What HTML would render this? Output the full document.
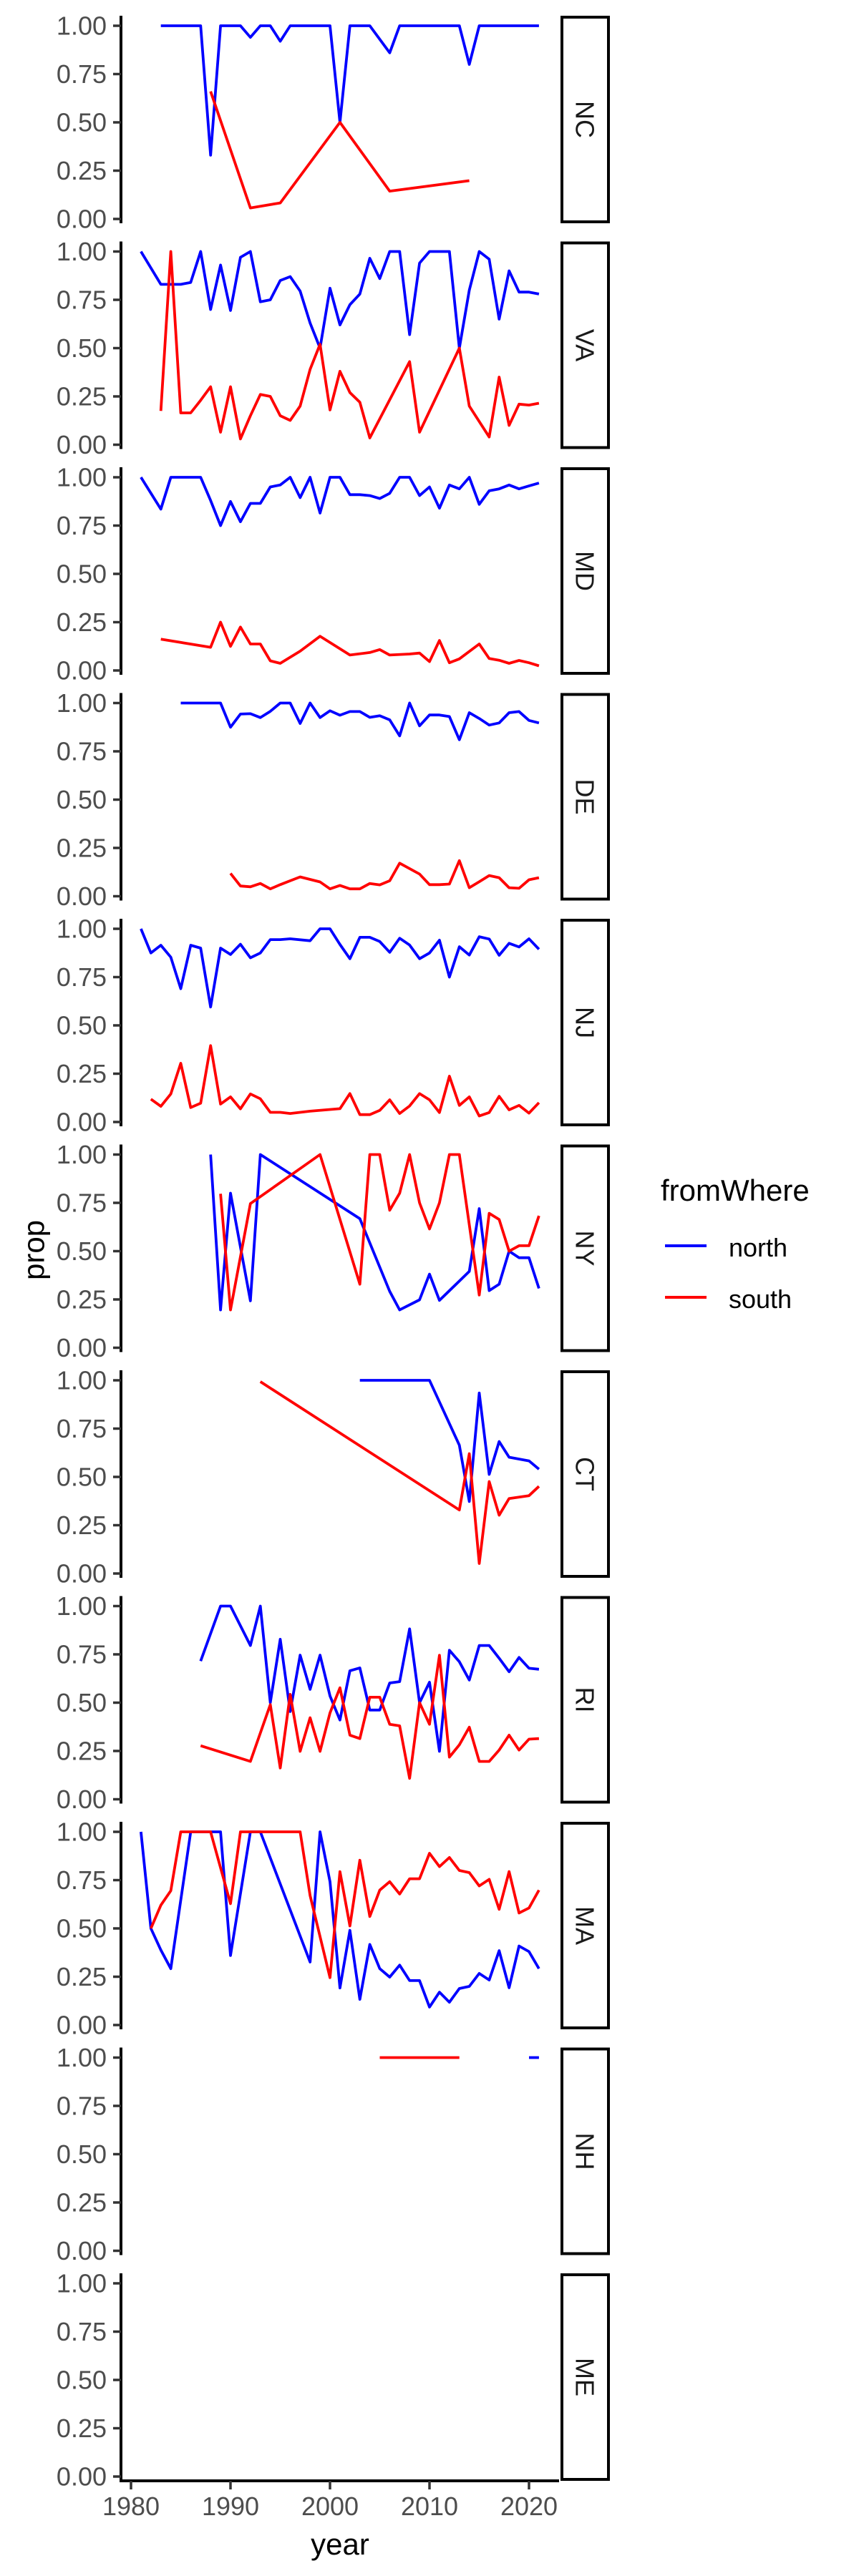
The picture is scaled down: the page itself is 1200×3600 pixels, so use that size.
<!DOCTYPE html>
<html><head><meta charset="utf-8">
<style>
html,body{margin:0;padding:0;background:#fff;}
svg{display:block;font-family:"Liberation Sans",Arial,sans-serif;}
</style></head>
<body>
<svg id="chart" width="1200" height="3600" viewBox="0 0 1200 3600" xmlns="http://www.w3.org/2000/svg">
<rect x="0" y="0" width="1200" height="3600" fill="#fff"/>
<g id="panels"></g>
<text x="47" y="1747" font-size="42" fill="#000" text-anchor="middle" dominant-baseline="central" transform="rotate(-90 47 1747)">prop</text>
<text x="475" y="3570" font-size="42" fill="#000" text-anchor="middle">year</text>
<g>
<text x="923" y="1678" font-size="42" fill="#000">fromWhere</text>
<line x1="929" y1="1741" x2="987" y2="1741" stroke="#0000FF" stroke-width="4"/>
<text x="1018" y="1756" font-size="36" fill="#000">north</text>
<line x1="929" y1="1813" x2="987" y2="1813" stroke="#FF0000" stroke-width="4"/>
<text x="1018" y="1828" font-size="36" fill="#000">south</text>
</g>
</svg>
<script>
const states = ["NC","VA","MD","DE","NJ","NY","CT","RI","MA","NH","ME"];
const yTicks = [0, 0.25, 0.5, 0.75, 1];
const yTickLabels = ["0.00","0.25","0.50","0.75","1.00"];
const xTicks = [1980, 1990, 2000, 2010, 2020];
const xTickLabels = ["1980","1990","2000","2010","2020"];

const NC_north = [[1983,1],[1984,1],[1985,1],[1986,1],[1987,1],[1988,0.33],[1989,1],[1990,1],[1991,1],[1992,0.94],[1993,1],[1994,1],[1995,0.92],[1996,1],[1997,1],[1998,1],[1999,1],[2000,1],[2001,0.5],[2002,1],[2003,1],[2004,1],[2006,0.86],[2007,1],[2008,1],[2009,1],[2010,1],[2011,1],[2012,1],[2013,1],[2014,0.8],[2015,1],[2016,1],[2017,1],[2018,1],[2019,1],[2020,1],[2021,1]];
const NC_south = [[1988,0.66],[1992,0.057],[1995,0.083],[2001,0.5],[2006,0.144],[2014,0.198]];
const VA_north = [[1981,1],[1983,0.83],[1984,0.83],[1985,0.83],[1986,0.84],[1987,1],[1988,0.7],[1989,0.93],[1990,0.695],[1991,0.97],[1992,1],[1993,0.74],[1994,0.75],[1995,0.85],[1996,0.87],[1997,0.795],[1998,0.63],[1999,0.5],[2000,0.81],[2001,0.62],[2002,0.725],[2003,0.78],[2004,0.965],[2005,0.86],[2006,1],[2007,1],[2008,0.57],[2009,0.94],[2010,1],[2011,1],[2012,1],[2013,0.5],[2014,0.8],[2015,1],[2016,0.96],[2017,0.65],[2018,0.9],[2019,0.79],[2020,0.79],[2021,0.78]];
const VA_south = [[1983,0.175],[1984,1],[1985,0.165],[1986,0.165],[1987,0.23],[1988,0.3],[1989,0.065],[1990,0.3],[1991,0.03],[1992,0.15],[1993,0.26],[1994,0.25],[1995,0.15],[1996,0.126],[1997,0.2],[1998,0.39],[1999,0.52],[2000,0.18],[2001,0.38],[2002,0.27],[2003,0.22],[2004,0.035],[2008,0.43],[2009,0.065],[2013,0.5],[2014,0.2],[2016,0.04],[2017,0.35],[2018,0.1],[2019,0.21],[2020,0.205],[2021,0.215]];
const MD_north = [[1981,1],[1983,0.835],[1984,1],[1985,1],[1986,1],[1987,1],[1988,0.88],[1989,0.75],[1990,0.875],[1991,0.77],[1992,0.865],[1993,0.865],[1994,0.95],[1995,0.96],[1996,1],[1997,0.895],[1998,1],[1999,0.815],[2000,1],[2001,1],[2002,0.91],[2003,0.91],[2004,0.905],[2005,0.89],[2006,0.917],[2007,1],[2008,1],[2009,0.905],[2010,0.95],[2011,0.84],[2012,0.96],[2013,0.94],[2014,1],[2015,0.86],[2016,0.93],[2017,0.94],[2018,0.96],[2019,0.94],[2020,0.955],[2021,0.97]];
const MD_south = [[1983,0.162],[1988,0.12],[1989,0.25],[1990,0.125],[1991,0.225],[1992,0.137],[1993,0.137],[1994,0.05],[1995,0.037],[1997,0.1],[1999,0.177],[2002,0.08],[2004,0.093],[2005,0.108],[2006,0.08],[2008,0.085],[2009,0.09],[2010,0.046],[2011,0.155],[2012,0.04],[2013,0.06],[2015,0.137],[2016,0.062],[2017,0.053],[2018,0.037],[2019,0.052],[2020,0.04],[2021,0.024]];
const DE_north = [[1985,1],[1986,1],[1987,1],[1988,1],[1989,1],[1990,0.875],[1991,0.943],[1992,0.945],[1993,0.925],[1994,0.957],[1995,1],[1996,1],[1997,0.894],[1998,1],[1999,0.925],[2000,0.96],[2001,0.937],[2002,0.956],[2003,0.956],[2004,0.926],[2005,0.934],[2006,0.913],[2007,0.83],[2008,1],[2009,0.882],[2010,0.938],[2011,0.938],[2012,0.93],[2013,0.81],[2014,0.95],[2015,0.92],[2016,0.886],[2017,0.897],[2018,0.95],[2019,0.956],[2020,0.91],[2021,0.897]];
const DE_south = [[1990,0.118],[1991,0.053],[1992,0.049],[1993,0.066],[1994,0.038],[1995,0.06],[1996,0.08],[1997,0.1],[1999,0.074],[2000,0.038],[2001,0.056],[2002,0.038],[2003,0.038],[2004,0.066],[2005,0.059],[2006,0.08],[2007,0.171],[2009,0.115],[2010,0.06],[2011,0.06],[2012,0.063],[2013,0.184],[2014,0.044],[2015,0.075],[2016,0.107],[2017,0.096],[2018,0.044],[2019,0.041],[2020,0.085],[2021,0.096]];
const NJ_north = [[1981,1],[1982,0.875],[1983,0.915],[1984,0.853],[1985,0.69],[1986,0.915],[1987,0.9],[1988,0.595],[1989,0.9],[1990,0.867],[1991,0.92],[1992,0.85],[1993,0.875],[1994,0.944],[1995,0.944],[1996,0.948],[1998,0.938],[1999,1],[2000,1],[2001,0.919],[2002,0.845],[2003,0.956],[2004,0.956],[2005,0.934],[2006,0.878],[2007,0.951],[2008,0.916],[2009,0.845],[2010,0.875],[2011,0.941],[2012,0.75],[2013,0.907],[2014,0.864],[2015,0.959],[2016,0.947],[2017,0.863],[2018,0.925],[2019,0.906],[2020,0.948],[2021,0.894]];
const NJ_south = [[1982,0.118],[1983,0.081],[1984,0.145],[1985,0.304],[1986,0.075],[1987,0.097],[1988,0.395],[1989,0.093],[1990,0.13],[1991,0.068],[1992,0.145],[1993,0.12],[1994,0.05],[1995,0.05],[1996,0.044],[1998,0.056],[2001,0.069],[2002,0.147],[2003,0.038],[2004,0.038],[2005,0.06],[2006,0.115],[2007,0.044],[2008,0.083],[2009,0.147],[2010,0.115],[2011,0.049],[2012,0.237],[2013,0.086],[2014,0.13],[2015,0.031],[2016,0.049],[2017,0.133],[2018,0.063],[2019,0.086],[2020,0.046],[2021,0.1]];
const NY_north = [[1988,1],[1989,0.196],[1990,0.8],[1992,0.243],[1993,1],[2003,0.668],[2006,0.292],[2007,0.196],[2009,0.248],[2010,0.381],[2011,0.245],[2014,0.395],[2015,0.72],[2016,0.296],[2017,0.329],[2018,0.5],[2019,0.466],[2020,0.466],[2021,0.307]];
const NY_south = [[1989,0.797],[1990,0.196],[1992,0.746],[1999,1],[2003,0.329],[2004,1],[2005,1],[2006,0.712],[2007,0.8],[2008,1],[2009,0.75],[2010,0.615],[2011,0.75],[2012,1],[2013,1],[2015,0.273],[2016,0.696],[2017,0.664],[2018,0.5],[2019,0.528],[2020,0.528],[2021,0.683]];
const CT_north = [[2003,1],[2010,1],[2013,0.664],[2014,0.373],[2015,0.934],[2016,0.513],[2017,0.683],[2018,0.602],[2020,0.583],[2021,0.54]];
const CT_south = [[1993,0.993],[2013,0.329],[2014,0.62],[2015,0.052],[2016,0.476],[2017,0.302],[2018,0.388],[2020,0.403],[2021,0.451]];
const RI_north = [[1987,0.715],[1989,1],[1990,1],[1992,0.796],[1993,1],[1994,0.5],[1995,0.828],[1996,0.454],[1997,0.746],[1998,0.569],[1999,0.746],[2000,0.535],[2001,0.41],[2002,0.665],[2003,0.68],[2004,0.462],[2005,0.462],[2006,0.602],[2007,0.609],[2008,0.882],[2009,0.5],[2010,0.606],[2011,0.248],[2012,0.771],[2013,0.712],[2014,0.617],[2015,0.796],[2016,0.796],[2017,0.73],[2018,0.66],[2019,0.734],[2020,0.678],[2021,0.673]];
const RI_south = [[1987,0.277],[1992,0.196],[1994,0.49],[1995,0.162],[1996,0.543],[1997,0.248],[1998,0.422],[1999,0.248],[2000,0.447],[2001,0.577],[2002,0.332],[2003,0.314],[2004,0.528],[2005,0.528],[2006,0.388],[2007,0.38],[2008,0.108],[2009,0.5],[2010,0.388],[2011,0.745],[2012,0.218],[2013,0.282],[2014,0.373],[2015,0.196],[2016,0.196],[2017,0.255],[2018,0.332],[2019,0.255],[2020,0.311],[2021,0.314]];
const MA_north = [[1981,1],[1982,0.5],[1983,0.388],[1984,0.292],[1986,1],[1987,1],[1988,1],[1989,1],[1990,0.36],[1992,1],[1993,1],[1998,0.326],[1999,1],[2000,0.742],[2001,0.192],[2002,0.49],[2003,0.133],[2004,0.417],[2005,0.292],[2006,0.248],[2007,0.31],[2008,0.23],[2009,0.23],[2010,0.093],[2011,0.17],[2012,0.118],[2013,0.189],[2014,0.2],[2015,0.267],[2016,0.233],[2017,0.385],[2018,0.193],[2019,0.409],[2020,0.38],[2021,0.292]];
const MA_south = [[1982,0.5],[1983,0.62],[1984,0.695],[1985,1],[1986,1],[1987,1],[1988,1],[1990,0.628],[1991,1],[1992,1],[1993,1],[1994,1],[1995,1],[1996,1],[1997,1],[1998,0.67],[2000,0.245],[2001,0.794],[2002,0.513],[2003,0.853],[2004,0.562],[2005,0.698],[2006,0.742],[2007,0.678],[2008,0.757],[2009,0.757],[2010,0.889],[2011,0.82],[2012,0.867],[2013,0.8],[2014,0.789],[2015,0.72],[2016,0.754],[2017,0.599],[2018,0.794],[2019,0.58],[2020,0.606],[2021,0.698]];
const NH_north = [[2020,1],[2021,1]];
const NH_south = [[2005,1],[2013,1]];
const ME_north = [];
const ME_south = [];

const northSeries = [NC_north,VA_north,MD_north,DE_north,NJ_north,NY_north,CT_north,RI_north,MA_north,NH_north,ME_north];
const southSeries = [NC_south,VA_south,MD_south,DE_south,NJ_south,NY_south,CT_south,RI_south,MA_south,NH_south,ME_south];

const NS = "http://www.w3.org/2000/svg";
const PANEL_STEP = 315.5, Y1_FIRST = 36, Y_SPAN = 270;
const X_LEFT = 169, X_RIGHT = 781;
function xScale(yr){ return 183 + (yr - 1980) * 13.9; }
function yScale(v, i){ return Y1_FIRST + PANEL_STEP * i + (1 - v) * Y_SPAN; }
function mk(tag, attrs, parent){
  const e = document.createElementNS(NS, tag);
  for (const k in attrs) e.setAttribute(k, attrs[k]);
  parent.appendChild(e);
  return e;
}
const root = document.getElementById("panels");
states.forEach((st, i) => {
  const g = mk("g", {}, root);
  
  
  const top = yScale(1, i) - 14, bot = yScale(0, i) + 6;
  // y axis line
  const ax = mk("line", {x1: X_LEFT, x2: X_LEFT, y1: top, y2: bot, stroke: "#000", "stroke-width": 4}, g);
  
  
  yTicks.forEach((t, k) => {
    const y = yScale(t, i);
    const tk = mk("line", {x1: 158, x2: X_LEFT, y1: y, y2: y, stroke: "#333", "stroke-width": 3.5}, g);
    
    
    const tl = mk("text", {x: 149, y: y, "font-size": 36, fill: "#4D4D4D", "text-anchor": "end", "dominant-baseline": "central"}, g);
    tl.textContent = yTickLabels[k];
    
    
  });
  // strip
  const sr = mk("rect", {x: 785, y: top + 2, width: 65, height: bot - top - 4, fill: "#fff", stroke: "#000", "stroke-width": 4}, g);
  
  
  const cy = (top + bot) / 2;
  const stx = mk("text", {x: 817, y: cy, "font-size": 36, fill: "#1A1A1A", "text-anchor": "middle", "dominant-baseline": "central", transform: "rotate(90 817 " + cy + ")"}, g);
  stx.textContent = st;
  
  
  // series
  [[northSeries[i], "#0000FF", "north"], [southSeries[i], "#FF0000", "south"]].forEach(([data, col, nm]) => {
    if (!data.length) return;
    const d = data.map((p, j) => (j ? "L" : "M") + xScale(p[0]).toFixed(1) + "," + yScale(p[1], i).toFixed(1)).join(" ");
    const p = mk("path", {d: d, fill: "none", stroke: col, "stroke-width": 3.8, "stroke-linejoin": "round"}, g);
    
    
  });
});
// x axis
const xg = mk("g", {}, root);


const xl = mk("line", {x1: X_LEFT - 2, x2: X_RIGHT, y1: 3467, y2: 3467, stroke: "#000", "stroke-width": 4}, xg);


xTicks.forEach((t, k) => {
  const x = xScale(t);
  const tk = mk("line", {x1: x, x2: x, y1: 3467, y2: 3479, stroke: "#333", "stroke-width": 3.5}, xg);
  
  
  const tl = mk("text", {x: x, y: 3515, "font-size": 36, fill: "#4D4D4D", "text-anchor": "middle"}, xg);
  tl.textContent = xTickLabels[k];
  
  
});
</script>
</body></html>
